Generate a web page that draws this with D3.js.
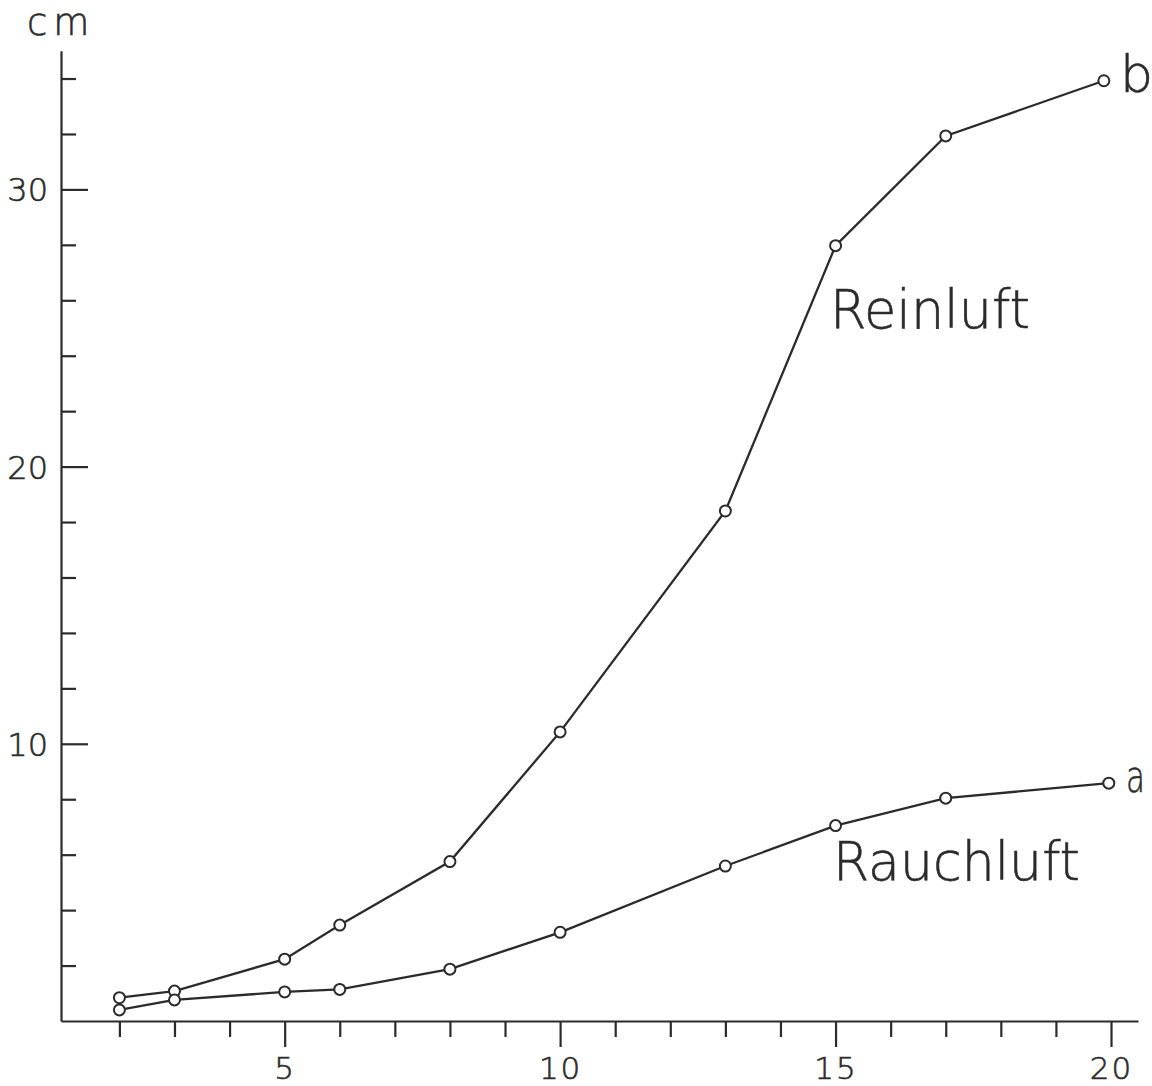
<!DOCTYPE html>
<html>
<head>
<meta charset="utf-8">
<script src="https://cdn.jsdelivr.net/npm/d3@7"></script>
<style>
  body { margin: 0; background: #fff; }
  svg text { font-family: "DejaVu Sans", sans-serif; font-weight: 200; fill: #2b2b2b; stroke: #2b2b2b; stroke-width: 0.6; }
</style>
</head>
<body>
<div id="chart"></div>
<script>
// x = Tage, y = Länge in cm
var reinX = [2, 3, 5, 6, 8, 10, 13, 15, 17, 19.87];
var reinY = [0.84, 1.08, 2.23, 3.46, 5.75, 10.43, 18.40, 27.97, 31.93, 33.92];
var rauchX = [2, 3, 5, 6, 8, 10, 13, 15, 17, 19.96];
var rauchY = [0.40, 0.76, 1.05, 1.14, 1.87, 3.20, 5.59, 7.05, 8.04, 8.58];

var xTicks = d3.range(2, 21);
var xLabels = [5, 10, 15, 20];
var yTicks = d3.range(2, 35, 2);
var yLabels = [10, 20, 30];

var svgWidth = 1152;
var svgHeight = 1086;

var svg = d3.select('#chart')
    .append('svg')
    .attr('width', svgWidth)
    .attr('height', svgHeight);

var x = d3.scaleLinear()
    .domain([0.94, 20.49])
    .range([61, 1138]);

var y = d3.scaleLinear()
    .domain([0, 35])
    .range([1021, 50.8]);

var ink = '#2b2b2b';

// x axis, ticks pointing down
var xAxis = d3.axisBottom(x)
    .tickValues(xTicks)
    .tickSizeOuter(0)
    .tickFormat(d => xLabels.includes(d) ? d : '');

var gx = svg.append('g')
    .attr('transform', `translate(0, ${y(0)})`)
    .call(xAxis);

gx.select('.domain').attr('stroke', ink).attr('stroke-width', 2.2);
gx.selectAll('.tick line')
    .attr('stroke', ink)
    .attr('stroke-width', 2.2)
    .attr('y2', d => xLabels.includes(d) ? 26 : 16);
gx.selectAll('.tick text')
    .attr('y', 58)
    .attr('dy', 0)
    .attr('font-size', 31)
    .attr('letter-spacing', 2)
    .attr('fill', ink)
    .style('font-family', '"DejaVu Sans", sans-serif');

// y axis, ticks pointing right
var yAxis = d3.axisRight(y)
    .tickValues(yTicks)
    .tickSizeOuter(0)
    .tickFormat('');

var gy = svg.append('g')
    .attr('transform', `translate(${x(0.94)}, 0)`)
    .call(yAxis);

gy.select('.domain').attr('stroke', ink).attr('stroke-width', 2.2);
gy.selectAll('.tick line')
    .attr('stroke', ink)
    .attr('stroke-width', 2.2)
    .attr('x2', d => yLabels.includes(d) ? 27 : 15);

svg.selectAll('text.ylab')
    .data(yLabels)
    .enter()
    .append('text')
    .attr('class', 'ylab')
    .attr('x', 48)
    .attr('y', d => y(d) + 12)
    .attr('text-anchor', 'end')
    .attr('font-size', 32)
    .text(d => d);

svg.append('text')
    .attr('x', 27)
    .attr('y', 35)
    .attr('font-size', 37)
    .attr('letter-spacing', 6)
    .text('cm');

// lines and circles
var line = d3.line()
    .x(d => x(d[0]))
    .y(d => y(d[1]));

var series = [
    d3.zip(reinX, reinY),
    d3.zip(rauchX, rauchY)
];

series.forEach(function(pts) {
    svg.append('path')
        .datum(pts)
        .attr('d', line)
        .attr('fill', 'none')
        .attr('stroke', ink)
        .attr('stroke-width', 2.3);

    svg.selectAll(null)
        .data(pts)
        .enter()
        .append('circle')
        .attr('cx', d => x(d[0]))
        .attr('cy', d => y(d[1]))
        .attr('r', 5.5)
        .attr('fill', '#fff')
        .attr('stroke', ink)
        .attr('stroke-width', 2);
});

// labels
svg.append('text')
    .attr('x', 830)
    .attr('y', 328)
    .attr('font-size', 53)
    .attr('textLength', 200)
    .attr('lengthAdjust', 'spacingAndGlyphs')
    .text('Reinluft');

svg.append('text')
    .attr('x', 833)
    .attr('y', 880)
    .attr('font-size', 53)
    .attr('textLength', 247)
    .attr('lengthAdjust', 'spacingAndGlyphs')
    .text('Rauchluft');

svg.append('text')
    .attr('x', 1120)
    .attr('y', 92)
    .attr('font-size', 52)
    .text('b');

svg.append('text')
    .attr('x', 1126)
    .attr('y', 792)
    .attr('font-size', 44)
    .attr('textLength', 19)
    .attr('lengthAdjust', 'spacingAndGlyphs')
    .text('a');
</script>
</body>
</html>
